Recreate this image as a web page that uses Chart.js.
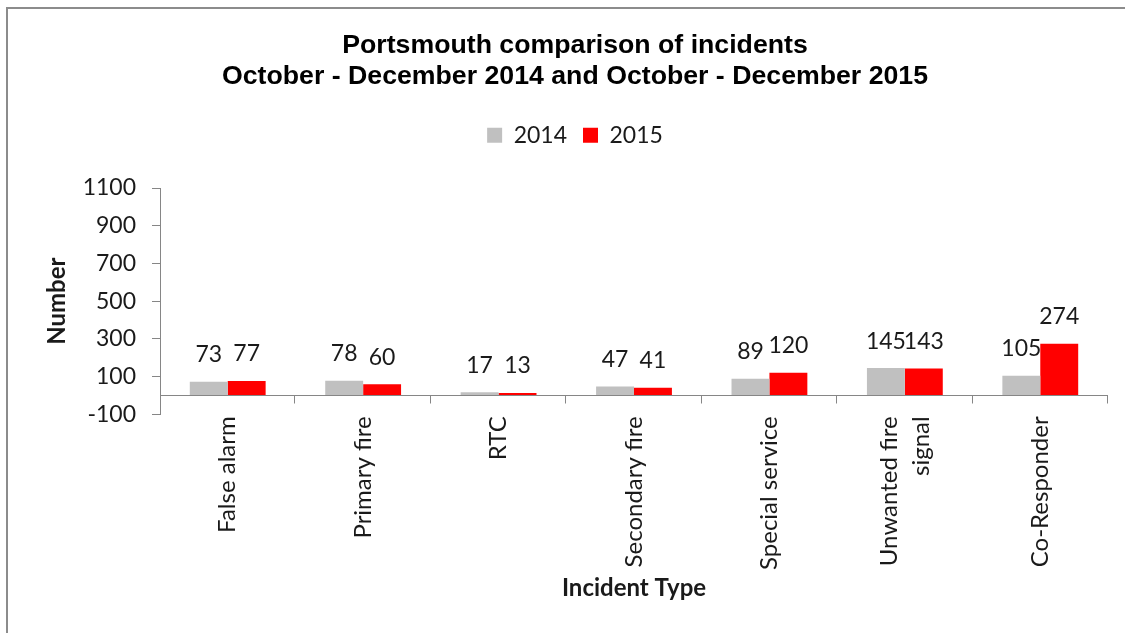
<!DOCTYPE html>
<html>
<head>
<meta charset="utf-8">
<script src="https://cdn.jsdelivr.net/npm/chart.js@4/dist/chart.umd.min.js"></script>
<style>
  html, body { margin: 0; padding: 0; overflow: hidden; background: #fff; width: 1125px; height: 633px; }
  #wrap { position: absolute; left: 0; top: 0; width: 1165px; height: 633px; }
  #frame { position: absolute; left: 6px; top: 7px; width: 1200px; height: 700px; border-top: 2px solid #8c8c8c; border-left: 2px solid #8c8c8c; pointer-events: none; }
</style>
</head>
<body>
<div id="wrap"><canvas id="c" width="1165" height="633"></canvas></div>
<div id="frame"></div>
<script>
const categories = ["False alarm", "Primary fire", "RTC", "Secondary fire", "Special service", ["Unwanted fire", "signal"], "Co-Responder"];
const values2014 = [73, 78, 17, 47, 89, 145, 105];
const values2015 = [77, 60, 13, 41, 120, 143, 274];
const seriesNames = ["2014", "2015"];
const yTickMin = -100;
const yTickMax = 1100;
const yTickStep = 200;
const titleLines = ["Portsmouth comparison of incidents", "October - December 2014 and October - December 2015"];

const AXIS_COLOR = '#868686';
const TEXT_COLOR = '#1a1a1a';
const X_LABEL_LINE_HEIGHT = 32;

const valueLabels = {
  id: 'valueLabels',
  afterDatasetsDraw(chart) {
    const ctx = chart.ctx;
    ctx.save();
    ctx.font = '23px Lato';
    ctx.fillStyle = TEXT_COLOR;
    ctx.textAlign = 'center';
    ctx.textBaseline = 'middle';
    chart.data.datasets.forEach((ds, i) => {
      chart.getDatasetMeta(i).data.forEach((bar, j) => {
        ctx.fillText(String(ds.data[j]), bar.x, bar.y - 27);
      });
    });
    ctx.restore();
  }
};

const zeroAxis = {
  id: 'zeroAxis',
  afterDatasetsDraw(chart) {
    const ctx = chart.ctx;
    const xs = chart.scales.x, ys = chart.scales.y;
    const y0 = Math.round(ys.getPixelForValue(0)) + 0.5;
    const n = chart.data.labels.length;
    ctx.save();
    ctx.strokeStyle = AXIS_COLOR;
    ctx.lineWidth = 1;
    ctx.beginPath();
    ctx.moveTo(xs.left, y0);
    ctx.lineTo(xs.right, y0);
    for (let i = 1; i <= n; i++) {
      const px = Math.round(xs.left + i * xs.width / n) - 0.5;
      ctx.moveTo(px, y0);
      ctx.lineTo(px, y0 + 8);
    }
    ctx.stroke();
    ctx.restore();
  }
};

// centre multi-line rotated category labels on their tick
const centerMultiLine = {
  id: 'centerMultiLine',
  beforeDraw(chart) {
    try {
      const xs = chart.scales.x;
      const items = xs.getLabelItems(chart.chartArea);
      items.forEach(it => {
        if (Array.isArray(it.label) && it.label.length > 1 && !it._centred) {
          it.options.translation[0] -= (it.label.length - 1) * X_LABEL_LINE_HEIGHT / 2;
          it._centred = true;
        }
      });
    } catch (e) {}
  }
};

new Chart(document.getElementById('c'), {
  type: 'bar',
  data: {
    labels: categories,
    datasets: [
      { label: seriesNames[0], data: values2014, backgroundColor: '#C0C0C0', categoryPercentage: 0.56, barPercentage: 1.0 },
      { label: seriesNames[1], data: values2015, backgroundColor: '#FF0000', categoryPercentage: 0.56, barPercentage: 1.0 }
    ]
  },
  options: {
    responsive: false,
    animation: false,
    layout: { padding: { left: 42, right: 57, top: 0, bottom: 10 } },
    plugins: {
      title: {
        display: true,
        text: titleLines,
        color: '#000',
        font: { family: '"Liberation Sans", Arial, sans-serif', size: 26.7, weight: 'bold', lineHeight: 1.13 },
        padding: { top: 31, bottom: 16.5 }
      },
      subtitle: {
        display: true,
        text: ' ',
        position: 'top',
        weight: 500,
        font: { size: 1, lineHeight: 1 },
        padding: { top: 15.1, bottom: 15.1 }
      },
      legend: {
        display: true,
        position: 'top',
        labels: {
          boxWidth: 15,
          boxHeight: 15,
          padding: 16,
          color: TEXT_COLOR,
          font: { family: 'Lato', size: 23 }
        }
      },
      tooltip: { enabled: false }
    },
    scales: {
      x: {
        grid: { display: false, drawTicks: false },
        border: { display: false },
        ticks: {
          autoSkip: false,
          minRotation: 90,
          maxRotation: 90,
          padding: 2,
          color: TEXT_COLOR,
          font: { family: 'Lato', size: 24, lineHeight: X_LABEL_LINE_HEIGHT / 24 }
        },
        title: {
          display: true,
          text: 'Incident Type',
          color: TEXT_COLOR,
          font: { family: 'Lato', size: 24, weight: 'bold', lineHeight: 1.2 },
          padding: { top: 20.6, bottom: 20.6 }
        },
        afterFit(scale) { scale.height = 208.7; }
      },
      y: {
        min: yTickMin,
        max: yTickMax,
        ticks: {
          stepSize: yTickStep,
          padding: 16,
          color: TEXT_COLOR,
          font: { family: 'Lato', size: 23 },
          callback: (v) => String(v)
        },
        grid: { drawOnChartArea: false, drawTicks: true, tickLength: 8, color: AXIS_COLOR },
        border: { display: true, color: AXIS_COLOR, width: 1 },
        title: {
          display: true,
          text: 'Number',
          color: TEXT_COLOR,
          font: { family: 'Lato', size: 24, weight: 'bold', lineHeight: 1.2 },
          padding: { top: 0.6, bottom: 0 }
        },
        afterFit(scale) { scale.width = 118; }
      }
    }
  },
  plugins: [valueLabels, zeroAxis, centerMultiLine]
});
</script>
</body>
</html>
